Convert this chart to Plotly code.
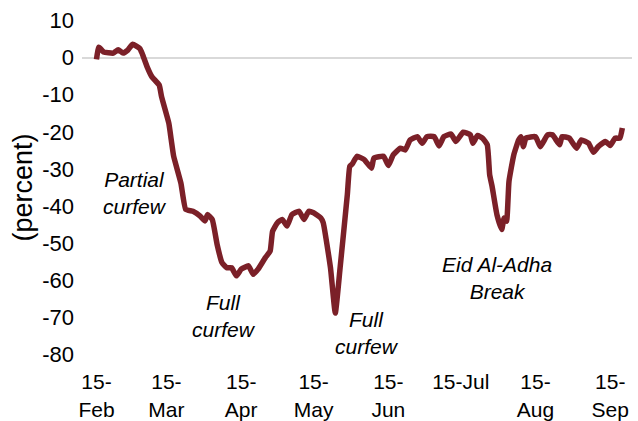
import plotly.graph_objects as go

dates = [
    "2020-02-15", "2020-02-16", "2020-02-18", "2020-02-22", "2020-02-24", "2020-02-26", "2020-02-28",
    "2020-03-01", "2020-03-04", "2020-03-05", "2020-03-07", "2020-03-09", "2020-03-12", "2020-03-13",
    "2020-03-16", "2020-03-17", "2020-03-18", "2020-03-21", "2020-03-23", "2020-03-26", "2020-03-29",
    "2020-03-31", "2020-04-01", "2020-04-03", "2020-04-05", "2020-04-07", "2020-04-09", "2020-04-11",
    "2020-04-13", "2020-04-15", "2020-04-18", "2020-04-20", "2020-04-22", "2020-04-25", "2020-04-27",
    "2020-04-28", "2020-04-30", "2020-05-02", "2020-05-04", "2020-05-06", "2020-05-09", "2020-05-11",
    "2020-05-13", "2020-05-15", "2020-05-18", "2020-05-19", "2020-05-22", "2020-05-24", "2020-05-26",
    "2020-05-29", "2020-05-30", "2020-05-31", "2020-06-02", "2020-06-05", "2020-06-08", "2020-06-09",
    "2020-06-13", "2020-06-15", "2020-06-17", "2020-06-20", "2020-06-22", "2020-06-24", "2020-06-27",
    "2020-06-29", "2020-07-01", "2020-07-04", "2020-07-06", "2020-07-08", "2020-07-11", "2020-07-13",
    "2020-07-16", "2020-07-19", "2020-07-20", "2020-07-22", "2020-07-24", "2020-07-26", "2020-07-27",
    "2020-07-28", "2020-07-30", "2020-08-01", "2020-08-02", "2020-08-03", "2020-08-04", "2020-08-06",
    "2020-08-08", "2020-08-09", "2020-08-10", "2020-08-11", "2020-08-15", "2020-08-17", "2020-08-20",
    "2020-08-22", "2020-08-25", "2020-08-26", "2020-08-29", "2020-09-01", "2020-09-03", "2020-09-06",
    "2020-09-08", "2020-09-10", "2020-09-13", "2020-09-15", "2020-09-17", "2020-09-19", "2020-09-20",
]

values = [
    -0.5, 2.8, 1.5, 1.2, 2.1, 1.2, 2.0,
    3.6, 2.4, 1.0, -2.5, -5.2, -7.4, -10.6,
    -17.7, -22.2, -26.6, -33.8, -40.9, -41.4, -42.7,
    -44.0, -42.3, -43.6, -50.3, -55.2, -56.6, -56.6,
    -58.8, -57.0, -56.1, -58.4, -57.0, -53.9, -52.1,
    -46.8, -44.5, -43.6, -45.4, -42.3, -41.4, -43.6,
    -41.4, -41.8, -43.2, -44.5, -56.6, -68.8, -56.6,
    -36.9, -29.3, -28.7, -26.6, -27.5, -29.8, -27.1,
    -26.6, -29.1, -26.2, -24.4, -24.9, -22.2, -21.3,
    -23.1, -21.3, -21.3, -23.8, -21.3, -20.6, -22.6,
    -20.1, -20.8, -23.1, -21.0, -21.7, -23.5, -31.6,
    -34.7, -42.3, -46.3, -43.2, -44.1, -33.4, -26.2,
    -22.2, -21.3, -24.0, -21.7, -21.3, -24.0, -20.8,
    -20.8, -23.5, -21.3, -21.7, -24.4, -22.2, -23.1,
    -25.5, -24.0, -22.6, -23.7, -21.7, -21.7, -19.0,
]

tick_dates = ["2020-02-15", "2020-03-15", "2020-04-15", "2020-05-15",
              "2020-06-15", "2020-07-15", "2020-08-15", "2020-09-15"]
tick_labels = ["15-<br>Feb", "15-<br>Mar", "15-<br>Apr", "15-<br>May",
               "15-<br>Jun", "15-Jul", "15-<br>Aug", "15-<br>Sep"]
y_ticks = [10, 0, -10, -20, -30, -40, -50, -60, -70, -80]
y_tick_labels = ["10", "0", "-10", "-20", "-30", "-40", "-50", "-60", "-70", "-80"]

note_texts = ["Partial<br>curfew", "Full<br>curfew", "Full<br>curfew", "Eid Al-Adha<br>Break"]
note_x = ["2020-03-02", "2020-04-08", "2020-06-06", "2020-07-30"]
note_y = [-36.5, -69.5, -74.3, -59.5]

LINE = "#7B2028"
FONT = "Liberation Sans, Arial, sans-serif"

fig = go.Figure()
fig.add_trace(go.Scatter(
    x=dates, y=values, mode="lines",
    line=dict(color=LINE, width=5.5, shape="spline", smoothing=0.4),
    hoverinfo="skip", showlegend=False,
))

for t, xx, yy in zip(note_texts, note_x, note_y):
    fig.add_annotation(
        x=xx, y=yy, text="<i>" + t + "</i>", showarrow=False,
        font=dict(family=FONT, size=21, color="black"),
        xanchor="center", yanchor="middle", align="center",
    )

fig.update_layout(
    width=638, height=421,
    margin=dict(l=82, r=6, t=13, b=59, autoexpand=False),
    paper_bgcolor="white", plot_bgcolor="white",
    font=dict(family=FONT, size=21, color="black"),
    showlegend=False,
    xaxis=dict(
        type="date",
        range=["2020-02-09", "2020-09-24"],
        tickvals=tick_dates, ticktext=tick_labels,
        showgrid=False, zeroline=False, showline=False,
        ticks="outside", ticklen=1, tickcolor="rgba(0,0,0,0)",
        automargin=False,
        tickfont=dict(family=FONT, size=21, color="black"),
    ),
    yaxis=dict(
        range=[-82, 12],
        tickvals=y_ticks, ticktext=y_tick_labels,
        showgrid=False, showline=False, ticks="",
        ticklabelstandoff=7, automargin=False,
        zeroline=True, zerolinecolor="#D9D9D9", zerolinewidth=1.5,
        tickfont=dict(family=FONT, size=22, color="black"),
        title=dict(text="(percent)", font=dict(family=FONT, size=27, color="black"), standoff=1),
    ),
)

fig.write_html(
    "out.html",
    config={"displayModeBar": False},
    post_script="document.body.style.margin='0';document.body.style.padding='0';",
)
